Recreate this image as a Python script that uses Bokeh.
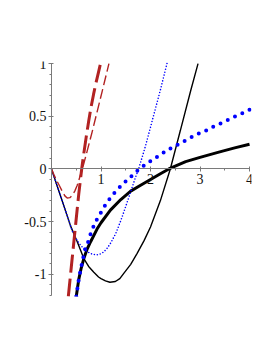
from bokeh.plotting import figure
from bokeh.models import Range1d, FixedTicker
from bokeh.embed import file_html
from bokeh.resources import INLINE

# ---- data ----
thin_black_x = [0, 0.2, 0.384, 0.52, 0.653, 0.75, 0.855, 0.95, 1.0, 1.09, 1.18, 1.29, 1.38, 1.46, 1.6, 1.73, 1.87, 2.0, 2.2, 2.4, 2.6, 2.81, 2.96]
thin_black_y = [0, -0.28, -0.54, -0.69, -0.85, -0.925, -0.98, -1.025, -1.04, -1.062, -1.075, -1.068, -1.04, -0.99, -0.905, -0.80, -0.68, -0.55, -0.30, 0.0, 0.36, 0.74, 1.0]

thick_black_x = [0.5, 0.55, 0.6, 0.653, 0.72, 0.79, 0.92, 1.0, 1.19, 1.4, 1.6, 1.8, 2.0, 2.2, 2.37, 2.71, 3.0, 3.38, 3.7, 4.0]
thick_black_y = [-1.21, -1.05, -0.94, -0.85, -0.76, -0.69, -0.57, -0.51, -0.39, -0.29, -0.21, -0.155, -0.10, -0.045, 0.0, 0.07, 0.11, 0.16, 0.20, 0.235]

thick_blue_x = [0.5, 0.55, 0.6, 0.673, 0.75, 0.80, 0.89, 0.99, 1.09, 1.21, 1.33, 1.47, 1.62, 1.76, 1.92, 2.08, 2.25, 2.42, 2.59, 2.76, 2.94, 3.13, 3.30, 3.48, 3.66, 3.84, 4.02]
thick_blue_y = [-1.21, -1.05, -0.93, -0.77, -0.68, -0.60, -0.50, -0.42, -0.34, -0.26, -0.195, -0.13, -0.066, -0.006, 0.05, 0.098, 0.152, 0.20, 0.24, 0.285, 0.33, 0.367, 0.41, 0.446, 0.488, 0.525, 0.566]

thin_blue_x = [0, 0.2, 0.42, 0.5, 0.59, 0.66, 0.72, 0.82, 0.9, 0.96, 1.05, 1.12, 1.2, 1.3, 1.4, 1.5, 1.6, 1.7, 1.76, 1.9, 2.03, 2.2, 2.34]
thin_blue_y = [0, -0.28, -0.59, -0.665, -0.725, -0.76, -0.785, -0.808, -0.815, -0.812, -0.79, -0.755, -0.70, -0.61, -0.49, -0.355, -0.215, -0.075, 0.0, 0.22, 0.45, 0.75, 1.015]

thick_red_x = [0.34, 0.40, 0.45, 0.50, 0.55, 0.61, 0.65, 0.70, 0.75, 0.80, 0.85, 0.90, 0.95, 1.0]
thick_red_y = [-1.21, -0.93, -0.70, -0.47, -0.24, 0.0, 0.14, 0.30, 0.45, 0.59, 0.71, 0.82, 0.92, 1.02]

thin_red_x = [0, 0.05, 0.1, 0.15, 0.216, 0.27, 0.317, 0.37, 0.42, 0.47, 0.52, 0.586, 0.624, 0.72, 0.82, 0.92, 1.02, 1.16]
thin_red_y = [0, -0.055, -0.105, -0.15, -0.21, -0.255, -0.275, -0.272, -0.25, -0.21, -0.155, -0.055, 0.0, 0.17, 0.35, 0.54, 0.73, 1.0]

x_ticks = [1, 2, 3, 4]
x_minor = [0.5, 1.5, 2.5, 3.5]
y_ticks = [-1, -0.5, 0, 0.5, 1]
y_labels = {-1: "-1", -0.5: "-0.5", 0: "0", 0.5: "0.5", 1: "1"}
y_minor = [round(-1.2 + 0.1 * i, 1) for i in range(23)]

# ---- figure ----
p = figure(output_backend="svg", toolbar_location=None,
           frame_width=240, frame_height=235,
           x_range=Range1d(-0.808, 4.04), y_range=Range1d(-1.21, 1.02))
p.min_border_left = 11
p.min_border_top = 61
p.min_border_bottom = 30
p.min_border_right = 5
p.outline_line_color = None
p.grid.visible = False
p.background_fill_color = "white"
p.border_fill_color = "white"

red = "#B22222"
p.line(thick_black_x, thick_black_y, line_color="black", line_width=3)
p.line(thin_black_x, thin_black_y, line_color="black", line_width=1.4)
p.line(thick_blue_x, thick_blue_y, line_color="#0000FF", line_width=4,
       line_dash="0 8", line_cap="round")
p.line(thin_blue_x, thin_blue_y, line_color="#0000FF", line_width=1.6,
       line_dash="0 3", line_cap="round")
p.line(thick_red_x, thick_red_y, line_color=red, line_width=3,
       line_dash="18 6")
p.line(thin_red_x, thin_red_y, line_color=red, line_width=1.4,
       line_dash="10 4")

for ax in (p.xaxis[0], p.yaxis[0]):
    ax.axis_line_color = "#7a7a7a"
    ax.major_tick_line_color = "#7a7a7a"
    ax.minor_tick_line_color = "#7a7a7a"
    ax.major_label_text_font = "Liberation Serif"
    ax.major_label_text_font_size = "14px"
    ax.major_label_text_color = "#111111"
    ax.major_tick_in = 2
    ax.major_tick_out = 3
    ax.minor_tick_in = 0
    ax.minor_tick_out = 2
    ax.major_label_standoff = 2

p.xaxis.fixed_location = 0
p.yaxis.fixed_location = 0
p.xaxis.bounds = (0, 4)
p.yaxis.bounds = (-1.2, 1)
p.xaxis.ticker = FixedTicker(ticks=x_ticks, minor_ticks=x_minor)
p.yaxis.ticker = FixedTicker(ticks=y_ticks, minor_ticks=y_minor)
p.yaxis.major_label_overrides = y_labels

open("out.html", "w").write(file_html(p, INLINE))
